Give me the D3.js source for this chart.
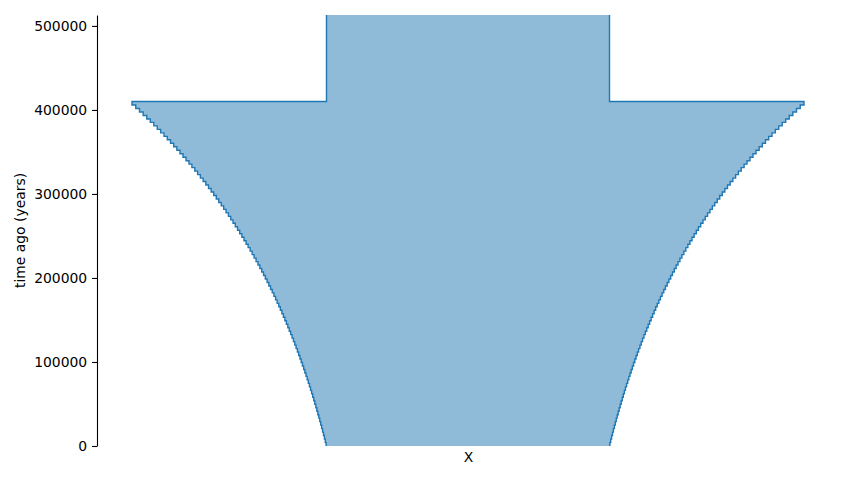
<!DOCTYPE html>
<html>
<head>
<meta charset="utf-8">
<script src="https://cdn.jsdelivr.net/npm/d3@7"></script>
<style>
  html, body { margin: 0; padding: 0; background: #fff; }
  svg { display: block; font-family: "DejaVu Sans", sans-serif; }
</style>
</head>
<body>
<svg id="chart" width="853" height="480"></svg>
<script>
// ---- data (deme "X") ----
const demeNames = ["X"];
const ancestralSize = 10000;          // constant size before 410000 years ago
const changeTime = 410000;            // time of the size change (years ago)
// deme size on each of the 100 steps from 410000 years ago (first) to present (last)
const stepSizes = [
  23746, 23479, 23216, 22958, 22703, 22452, 22205, 21961, 21721, 21485,
  21252, 21023, 20797, 20575, 20356, 20140, 19927, 19718, 19512, 19309,
  19109, 18912, 18718, 18527, 18338, 18153, 17970, 17790, 17613, 17439,
  17267, 17098, 16931, 16767, 16605, 16445, 16289, 16134, 15982, 15832,
  15684, 15538, 15395, 15254, 15115, 14978, 14843, 14710, 14579, 14450,
  14324, 14198, 14075, 13954, 13834, 13716, 13601, 13486, 13374, 13263,
  13154, 13046, 12941, 12836, 12734, 12632, 12533, 12435, 12338, 12243,
  12149, 12057, 11966, 11876, 11788, 11701, 11615, 11531, 11448, 11366,
  11286, 11206, 11128, 11051, 10975, 10901, 10827, 10754, 10683, 10613,
  10544, 10475, 10408, 10342, 10277, 10213, 10149, 10087, 10026, 9965
];
const yTickValues = [0, 100000, 200000, 300000, 400000, 500000];
const yMax = 513000;

// ---- layout ----
const plot = { left: 97, right: 838, top: 15, bottom: 446 };
const color = "#1f77b4";

const svg = d3.select("#chart");

const y = d3.scaleLinear().domain([0, yMax]).range([plot.bottom, plot.top]);
const xCat = d3.scalePoint().domain(demeNames).range([plot.left, plot.right]).padding(0.5);
const wScale = d3.scaleLinear().domain([0, 10000]).range([0, 283]); // size -> tube width

const cx = xCat("X") + 0.5;
const nSteps = stepSizes.length;
const stepTimes = stepSizes.map((s, i) => changeTime * (1 - i / (nSteps - 1)));

function sidePath(sign) {
  const xs = s => cx + sign * wScale(s) / 2;
  const out = [];
  out.push([xs(ancestralSize), y(yMax * 1.05)]);
  out.push([xs(ancestralSize), y(changeTime)]);
  for (let i = 0; i < nSteps; i++) {
    if (i === 0) {
      out.push([xs(stepSizes[0]), y(stepTimes[0])]);
    } else {
      out.push([xs(stepSizes[i - 1]), y(stepTimes[i])]);
      out.push([xs(stepSizes[i]), y(stepTimes[i])]);
    }
  }
  return out;
}

const leftSide = sidePath(-1);
const rightSide = sidePath(1);

svg.append("defs").append("clipPath").attr("id", "clip")
  .append("rect")
  .attr("x", plot.left).attr("y", plot.top)
  .attr("width", plot.right - plot.left).attr("height", plot.bottom - plot.top);

const g = svg.append("g").attr("clip-path", "url(#clip)");
const line = d3.line();

const poly = leftSide.concat(rightSide.slice().reverse());
g.append("path")
  .attr("d", line(poly) + "Z")
  .attr("fill", color)
  .attr("fill-opacity", 0.5)
  .attr("stroke", "none");

[leftSide, rightSide].forEach(side => {
  g.append("path")
    .attr("d", line(side))
    .attr("fill", "none")
    .attr("stroke", color)
    .attr("stroke-width", 1.4)
    .attr("stroke-linejoin", "miter");
});

// ---- axes ----
const yAxis = d3.axisLeft(y)
  .tickValues(yTickValues)
  .tickFormat(d3.format("d"))
  .tickSize(4.9)
  .tickSizeOuter(0)
  .tickPadding(4.9);

const yG = svg.append("g")
  .attr("transform", `translate(${plot.left},0)`)
  .call(yAxis);
yG.select(".domain").attr("stroke", "#000").attr("stroke-width", 1.1);
yG.selectAll(".tick line").attr("stroke", "#000").attr("stroke-width", 1.1);
yG.selectAll(".tick text").attr("fill", "#000").style("font-size", "13.9px")
  .style("font-family", "DejaVu Sans");

const xAxis = d3.axisBottom(xCat).tickSize(0).tickPadding(6);
const xG = svg.append("g")
  .attr("transform", `translate(0.5,${plot.bottom})`)
  .call(xAxis);
xG.select(".domain").remove();
xG.selectAll(".tick text").attr("fill", "#000").style("font-size", "13.9px")
  .style("font-family", "DejaVu Sans");

svg.append("text")
  .attr("transform", `translate(24.5,${(plot.top + plot.bottom) / 2}) rotate(-90)`)
  .attr("text-anchor", "middle")
  .style("font-size", "13.9px")
  .style("font-family", "DejaVu Sans")
  .attr("fill", "#000")
  .text("time ago (years)");
</script>
</body>
</html>
